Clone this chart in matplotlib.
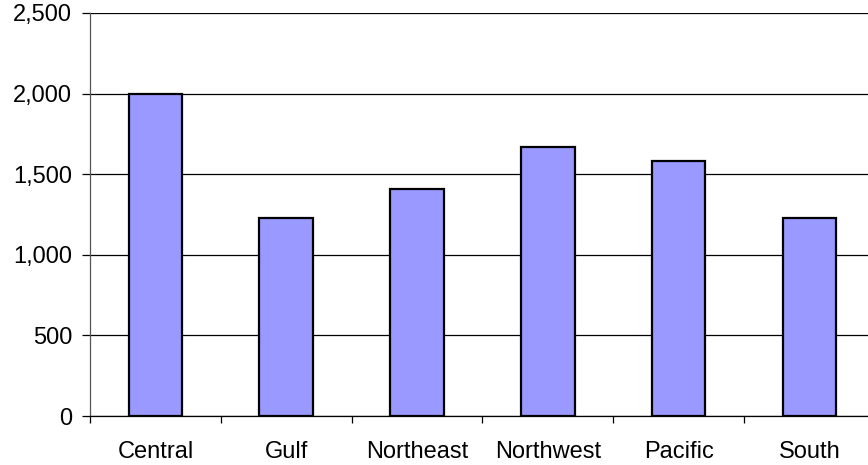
import matplotlib
matplotlib.use("Agg")
import matplotlib.pyplot as plt
from matplotlib.ticker import FuncFormatter, FixedLocator

regions = ["Central", "Gulf", "Northeast", "Northwest", "Pacific", "South"]
values = [2000, 1230, 1406, 1671, 1584, 1226]
y_ticks = [0, 500, 1000, 1500, 2000, 2500]

plt.rcParams["font.family"] = ["Liberation Sans", "DejaVu Sans"]

W, H = 868, 465
fig = plt.figure(figsize=(W / 100, H / 100), dpi=100)
left, right_px, top, bottom = 90, 90 + 6 * 130.8, 13, 416
ax = fig.add_axes([left / W, (H - bottom) / H, (right_px - left) / W, (bottom - top) / H])

x = list(range(len(regions)))
ax.bar(x, values, width=0.41, color="#9999FF", edgecolor="black", linewidth=1.6, zorder=3)

ax.set_xlim(-0.5, len(regions) - 0.5)
ax.set_ylim(0, 2500)
ax.set_yticks(y_ticks)
ax.yaxis.set_major_formatter(FuncFormatter(lambda v, p: f"{int(v):,}"))
ax.yaxis.grid(True, color="black", linewidth=0.9, zorder=1)

ax.set_xticks(x)
ax.set_xticklabels(regions)
ax.xaxis.set_minor_locator(FixedLocator([i - 0.5 for i in range(len(regions) + 1)]))
ax.tick_params(axis="x", which="major", length=0, pad=18, labelsize=17)
ax.tick_params(axis="x", which="minor", length=5, width=0.9, direction="out", color="black")
ax.tick_params(axis="y", which="major", length=5.8, width=0.9, pad=7, labelsize=17, color="black")

for s in ["top", "right"]:
    ax.spines[s].set_visible(False)
ax.spines["left"].set_color("#555555")
ax.spines["left"].set_linewidth(0.9)
ax.spines["bottom"].set_linewidth(0.9)

fig.savefig("out.png", dpi=100)
